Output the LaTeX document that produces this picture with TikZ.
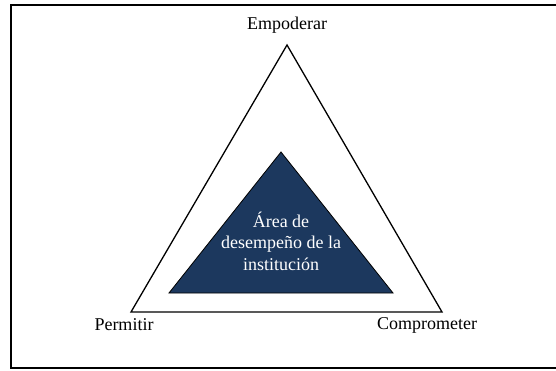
\documentclass[tikz,border=0pt]{standalone}
\usepackage{fontspec}
\setmainfont{Liberation Serif}
\definecolor{areablue}{RGB}{28,56,94}
\begin{document}
\begin{tikzpicture}[x=1pt,y=-1pt,
  tag/.style={font=\fontsize{18}{21.5}\selectfont, inner sep=0pt}]
\useasboundingbox (0,0) rectangle (556,370);
% frame
\draw[line width=2pt] (558,4.5) -- (11,4.5) -- (11,368) -- (558,368);
% outer triangle
\coordinate (otop) at (287,45);
\coordinate (oleft) at (131,312);
\coordinate (oright) at (442,312);
\draw[line width=1.3pt] (otop) -- (oleft) -- (oright) -- cycle;
% inner triangle
\coordinate (itop) at (281,152);
\coordinate (ileft) at (169,293);
\coordinate (iright) at (393,293);
\draw[fill=areablue, line width=0.8pt] (itop) -- (ileft) -- (iright) -- cycle;
\node[tag] (emp) at (287,25) {Empoderar};
\node[tag] (per) at (124,325) {Permitir};
\node[tag] (com) at (427,325) {Comprometer};
\node[tag, text=white, align=center] (area) at (281,241) {Área de\\desempeño de la\\institución};
\end{tikzpicture}
\end{document}
